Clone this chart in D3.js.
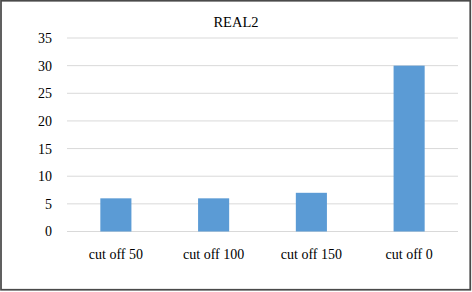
<!DOCTYPE html>
<html>
<head>
<meta charset="utf-8">
<script src="https://cdn.jsdelivr.net/npm/d3@7"></script>
<style>
  body { margin: 0; background: #fff; }
</style>
</head>
<body>
<div id="chart"></div>
<script>
// chart data
var categories = ["cut off 50", "cut off 100", "cut off 150", "cut off 0"];
var values = [6, 6, 7, 30];
var yTicks = [0, 5, 10, 15, 20, 25, 30, 35];
var title = "REAL2";

var width = 472, height = 292;
var margin = {top: 38, right: 14, bottom: 60.5, left: 67};
var serif = "'Liberation Serif', 'Times New Roman', Times, serif";

var svg = d3.select("#chart")
            .append("svg")
            .attr("width", width)
            .attr("height", height);

// outer frame
svg.append("rect")
   .attr("x", 1).attr("y", 0.75)
   .attr("width", width - 2.75).attr("height", height - 3)
   .attr("fill", "#fff")
   .attr("stroke", "#4a4a4a")
   .attr("stroke-width", 1.75);

var x = d3.scaleBand()
          .domain(categories)
          .range([margin.left, width - margin.right])
          .paddingInner(0.682)
          .paddingOuter(0.341);

var y = d3.scaleLinear()
          .domain([0, 35])
          .range([height - margin.bottom, margin.top]);

// gridlines
svg.append("g")
   .selectAll("line")
   .data(yTicks)
   .join("line")
   .attr("x1", margin.left)
   .attr("x2", width - margin.right)
   .attr("y1", function(d) { return y(d); })
   .attr("y2", function(d) { return y(d); })
   .attr("stroke", "#d9d9d9")
   .attr("stroke-width", 1);

// y labels
var yAxis = svg.append("g")
   .attr("transform", "translate(" + margin.left + ",0)")
   .call(d3.axisLeft(y).tickValues(yTicks).tickSize(0).tickPadding(15));
yAxis.select(".domain").remove();
yAxis.attr("font-family", serif).attr("font-size", 14);
yAxis.selectAll("text").attr("fill", "#000");

// bars
svg.append("g")
   .selectAll("rect")
   .data(values)
   .join("rect")
   .attr("x", function(d, i) { return x(categories[i]); })
   .attr("width", x.bandwidth())
   .attr("y", function(d) { return y(d); })
   .attr("height", function(d) { return y(0) - y(d); })
   .attr("fill", "#5b9bd5");

// x labels
var xAxis = svg.append("g")
   .attr("transform", "translate(0," + y(0) + ")")
   .call(d3.axisBottom(x).tickSize(0).tickPadding(18));
xAxis.select(".domain").remove();
xAxis.attr("font-family", serif).attr("font-size", 14);
xAxis.selectAll("text").attr("fill", "#000");

// title
svg.append("text")
   .attr("x", 236)
   .attr("y", 27)
   .attr("text-anchor", "middle")
   .attr("font-family", serif)
   .attr("font-size", 14.5)
   .text(title);
</script>
</body>
</html>
